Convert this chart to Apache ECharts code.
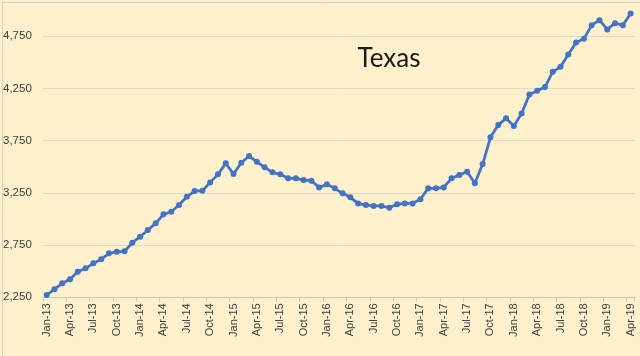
<!DOCTYPE html>
<html>
<head>
<meta charset="utf-8">
<script src="https://cdn.jsdelivr.net/npm/echarts@6/dist/echarts.min.js"></script>
<style>
html,body{margin:0;padding:0;background:#FCF0CD;}
#c{width:640px;height:356px;}
</style>
</head>
<body>
<div id="c"></div>
<script>
var monthNames = ['Jan','Feb','Mar','Apr','May','Jun','Jul','Aug','Sep','Oct','Nov','Dec'];
var years = ['13','14','15','16','17','18','19'];
var categories = [];
years.forEach(function(y){ monthNames.forEach(function(m){ categories.push(m + '-' + y); }); });
categories = categories.slice(0, 76); // Jan-13 .. Apr-19

var production = [
  2272,2327,2384,2422,2495,2527,2575,2614,2671,2686,
  2690,2772,2830,2894,2958,3044,3069,3133,3212,3267,
  3270,3350,3427,3532,3430,3538,3602,3547,3494,3446,
  3427,3389,3389,3372,3366,3302,3331,3293,3245,3207,
  3149,3133,3124,3124,3107,3140,3149,3149,3188,3293,
  3293,3302,3389,3420,3452,3341,3525,3781,3900,3963,
  3889,4010,4190,4227,4262,4408,4456,4575,4690,4724,
  4855,4903,4814,4874,4855,4967
];
var titleText = 'Texas';
var yMin = 2250, yMax = 5000, yStep = 500;

var chart = echarts.init(document.getElementById('c'), null, {renderer: 'canvas'});
chart.setOption({
  backgroundColor: '#FCF0CD',
  animation: false,
  title: {
    text: titleText,
    left: 384, top: 41, textAlign: 'center',
    textStyle: {fontFamily: 'Lato', fontSize: 26, fontWeight: 'normal', color: '#1a1a1a'}
  },
  graphic: [{
    type: 'rect', left: 0, top: 0, silent: true,
    shape: {x: 0.5, y: 0.5, width: 639, height: 355},
    style: {fill: 'none', stroke: '#D9D2BE', lineWidth: 1}
  }],
  grid: {left: 42, right: 5.5, top: 10, bottom: 58.7, containLabel: false},
  xAxis: {
    type: 'category',
    data: categories,
    boundaryGap: true,
    axisLine: {lineStyle: {color: '#D0C8B0', width: 1}},
    axisTick: {show: true, interval: 2, length: 4, lineStyle: {color: '#D0C8B0'}},
    axisLabel: {
      interval: 2, rotate: 90, margin: 6,
      fontFamily: 'Liberation Sans', fontSize: 11, color: '#404040'
    },
    splitLine: {show: false}
  },
  yAxis: {
    type: 'value',
    min: yMin, max: yMax, interval: yStep,
    axisLine: {show: false},
    axisTick: {show: false},
    axisLabel: {
      margin: 11, showMaxLabel: false,
      fontFamily: 'Liberation Sans', fontSize: 11.5, color: '#404040',
      formatter: function(v){ return v.toLocaleString('en-US'); }
    },
    splitLine: {lineStyle: {color: ['#E3DAC2','#E3DAC2','#E3DAC2','#E3DAC2','#E3DAC2','#E3DAC2','rgba(0,0,0,0)'], width: 1}}
  },
  series: [{
    type: 'line',
    data: production,
    symbol: 'circle',
    symbolSize: 6,
    showAllSymbol: true,
    lineStyle: {color: '#4472C4', width: 2.75},
    itemStyle: {color: '#4472C4'}
  }]
});
</script>
</body>
</html>
